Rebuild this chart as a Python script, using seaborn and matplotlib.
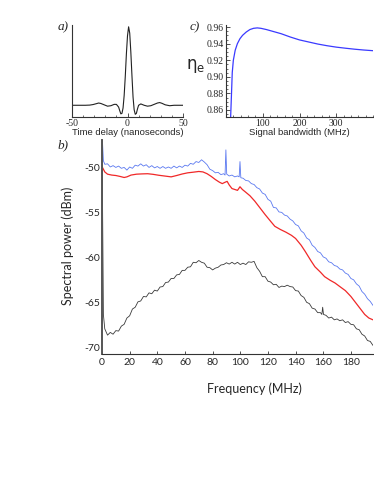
import pandas as pd
import matplotlib
matplotlib.use("Agg")
import matplotlib.pyplot as plt
from matplotlib.ticker import MultipleLocator
import seaborn as sns
import numpy as np
sns.set_style("ticks")
plt.rcParams['font.family'] = ['Liberation Sans', 'DejaVu Sans']
plt.rcParams['mathtext.fontset'] = 'dejavusans'

# a) autocorrelation vs time delay (ns)
delay = [-50, -46, -42, -38, -34, -31, -28, -26, -24, -21, -18, -15, -12, -10, -8, -7, -6, -5, -4, -3,
         -2, -1, 0, 1, 2, 3, 4, 5, 6, 7, 8, 9, 10, 12, 15, 18, 21, 24, 27, 29, 31, 34, 38, 42, 46, 50]
corr = [0.13, 0.13, 0.13, 0.13, 0.132, 0.138, 0.148, 0.155, 0.15, 0.135, 0.12, 0.125, 0.14, 0.14, 0.11, 0.07, 0.035, 0.04, 0.1, 0.24,
        0.45, 0.7, 0.9, 1.0, 0.93, 0.72, 0.46, 0.22, 0.08, 0.03, 0.04, 0.09, 0.13, 0.145, 0.13, 0.12, 0.125, 0.14, 0.155, 0.16,
        0.152, 0.135, 0.125, 0.13, 0.13, 0.13]

# c) efficiency vs signal bandwidth
bw = [12.5, 15, 17, 20, 25, 31, 38, 45, 55, 65, 75, 85, 95, 110, 130, 150, 175, 200, 225, 250, 275, 300, 325, 350, 375, 400]
eta = [0.85, 0.88, 0.905, 0.92, 0.932, 0.94, 0.946, 0.95, 0.954, 0.957, 0.9585, 0.959, 0.9585, 0.957, 0.9545, 0.952,
       0.948, 0.9445, 0.942, 0.9395, 0.9375, 0.9358, 0.9345, 0.9333, 0.9323, 0.9315]

# b) spectra
blue_f = [0, 1, 2, 4, 6, 8, 10, 12, 14, 16, 18, 20, 22, 24, 26, 28, 30, 32, 34, 36, 38, 40, 42, 44, 46, 48, 50,
          52, 54, 56, 58, 60, 62, 64, 66, 68, 70, 72, 74, 76, 78, 80, 82, 84, 86, 88, 89, 89.6, 90.2, 92, 94, 96, 98,
          99.2, 99.8, 100.4, 102, 104, 106, 108, 110, 112, 114, 116, 118, 120, 122, 124, 126, 128, 130, 132, 134,
          136, 138, 140, 142, 144, 146, 148, 150, 152, 154, 156, 158, 160, 162, 164, 166, 168, 170, 172, 174, 176,
          178, 180, 182, 184, 186, 188, 190, 192, 194, 196]
blue_p = [-46.0, -49.2, -49.6, -49.55, -49.9, -49.75, -49.95, -49.8, -50.05, -49.95, -50.25, -49.9, -50.05, -49.7,
          -49.8, -49.55, -49.8, -49.65, -49.95, -49.75, -50.0, -49.85, -50.05, -49.85, -50.05, -49.9, -50.05,
          -49.8, -50.0, -49.8, -49.95, -49.7, -49.8, -49.5, -49.6, -49.3, -49.4, -49.1, -49.35, -49.65, -50.15,
          -50.3, -50.55, -50.5, -50.75, -50.65, -50.8, -48.0, -50.7, -50.9, -50.8, -51.0, -50.9,
          -51.0, -49.3, -51.1, -51.15, -51.4, -51.45, -51.75, -51.85, -52.2, -52.35, -52.8, -52.95, -53.5, -53.7,
          -54.4, -54.45, -54.9, -54.95, -55.25, -55.35, -55.7, -55.9, -56.3, -56.45, -57.0, -57.25, -57.8, -58.0,
          -58.6, -58.85, -59.3, -59.45, -59.9, -60.05, -60.45, -60.55, -60.85, -60.95, -61.25, -61.35, -61.7,
          -61.85, -62.3, -62.45, -62.9, -63.15, -63.75, -64.05, -64.55, -64.85, -65.3]

red_f = [0, 2, 4, 7, 10, 13, 16, 18, 21, 25, 29, 33, 37, 41, 45, 50, 54, 58, 62, 66, 70, 73, 76, 79, 82, 85, 87,
         89, 90.5, 92, 94, 96, 98, 99.8, 101.5, 103.5, 107, 110.5, 114, 118, 122, 125, 129, 133, 137, 140, 144,
         147, 151, 154, 158, 161, 165, 168.5, 172, 176, 180, 183, 187, 190, 193, 196]
red_p = [-49.85, -50.45, -50.7, -50.8, -50.85, -50.95, -51.07, -51.0, -50.8, -50.7, -50.67, -50.65, -50.72,
         -50.82, -50.9, -51.0, -50.85, -50.68, -50.55, -50.48, -50.4, -50.45, -50.65, -50.95, -51.3, -51.6,
         -51.75, -51.6, -51.5, -51.9, -52.3, -52.4, -52.5, -52.1, -52.4, -52.65, -53.1, -53.7, -54.4, -55.2,
         -55.95, -56.5, -56.85, -57.15, -57.5, -57.85, -58.6, -59.3, -60.3, -61.0, -61.6, -62.1, -62.5, -62.8,
         -63.2, -63.65, -64.3, -64.9, -65.7, -66.3, -66.7, -66.9]

black_f = [0, 1, 2, 4, 6, 8, 10, 12, 14, 16, 18, 20, 22, 24, 26, 28, 30, 32, 34, 36, 38, 40, 42, 44, 46, 48, 50,
           52, 54, 56, 58, 60, 62, 64, 66, 68, 70, 72, 74, 76, 78, 80, 82, 84, 86, 88, 90, 92, 94, 96, 98, 100,
           102, 104, 106, 108, 110, 112, 114, 116, 118, 120, 122, 124, 126, 128, 130, 132, 134, 136, 138, 140,
           142, 144, 146, 148, 150, 152, 154, 156, 158, 159, 159.6, 160.2, 162, 164, 166, 168, 170, 172, 174,
           176, 178, 180, 182, 184, 186, 188, 190, 192, 194, 196]
black_p = [-46.0, -66.3, -67.9, -68.6, -68.3, -68.5, -68.1, -68.15, -67.6, -67.4, -66.7, -66.45, -65.7, -65.5,
           -64.9, -64.8, -64.3, -64.35, -63.9, -64.0, -63.6, -63.7, -63.25, -63.2, -62.75, -62.7, -62.3,
           -62.3, -61.9, -61.85, -61.4, -61.4, -61.05, -61.0, -60.5, -60.55, -60.3, -60.5, -60.6, -61.05,
           -61.1, -61.35, -61.15, -61.05, -60.8, -60.75, -60.55, -60.7, -60.5, -60.7, -60.5, -60.75,
           -60.6, -60.75, -60.45, -60.5, -60.4, -61.1, -61.5, -62.1, -62.1, -62.6, -62.7, -63.0, -62.95,
           -63.3, -63.15, -63.2, -63.05, -63.2, -63.25, -63.65, -63.7, -64.2, -64.4, -64.95, -65.1, -65.6,
           -65.7, -66.1, -66.1, -66.3, -65.5, -66.3, -66.4, -66.7, -66.6, -66.9, -66.8, -67.0, -66.9,
           -67.2, -67.1, -67.4, -67.45, -67.9, -68.0, -68.5, -68.7, -69.2, -69.3, -69.75]

serif = 'Liberation Serif'
sans2 = 'Lato'
spine_col = '#333333'

fig = plt.figure(figsize=(3.74, 4.84), dpi=100)
ax_a = fig.add_axes([72 / 374, 1 - 117 / 484, 111 / 374, 92 / 484])
ax_c = fig.add_axes([226 / 374, 1 - 117 / 484, 147 / 374, 92 / 484])
ax_b = fig.add_axes([102 / 374, 1 - 354 / 484, 271 / 374, 214 / 484])

# panel a
sns.lineplot(x=delay, y=corr, ax=ax_a, color='#222222', lw=0.8, estimator=None)
ax_a.set_xlim(-50, 50)
ax_a.set_ylim(0, 1.02)
ax_a.set_xticks([-50, 0, 50])
ax_a.set_xticklabels(['-50', '0', '50'], family=serif, fontsize=7)
ax_a.xaxis.set_minor_locator(MultipleLocator(10))
ax_a.set_yticks([])
ax_a.tick_params(axis='x', which='major', direction='in', length=3, width=0.6, pad=1.5, color=spine_col)
ax_a.tick_params(axis='x', which='minor', direction='in', length=1.8, width=0.5, color=spine_col)
ax_a.set_xlabel('Time delay (nanoseconds)', fontsize=6.8, labelpad=0)

# panel c
sns.lineplot(x=bw, y=eta, ax=ax_c, color='#3a3aff', lw=0.9, estimator=None)
ax_c.set_xlim(0, 400)
ax_c.set_ylim(0.8515, 0.9625)
ax_c.set_xticks([100, 200, 300])
ax_c.set_xticklabels(['100', '200', '300'], family=serif, fontsize=7)
ax_c.set_yticks([0.86, 0.88, 0.90, 0.92, 0.94, 0.96])
ax_c.set_yticklabels(['0.86', '0.88', '0.90', '0.92', '0.94', '0.96'], family=serif, fontsize=7)
ax_c.xaxis.set_minor_locator(MultipleLocator(20))
ax_c.yaxis.set_minor_locator(MultipleLocator(0.005))
ax_c.tick_params(which='major', direction='in', length=3, width=0.6, pad=1.5, color=spine_col)
ax_c.tick_params(which='minor', direction='in', length=1.6, width=0.5, color=spine_col)
ax_c.set_xlabel('Signal bandwidth (MHz)', fontsize=6.8, labelpad=0)
ax_c.set_ylabel(r'η$_\mathrm{e}$', family='DejaVu Sans', fontsize=12, rotation=0, ha='center', va='center')
ax_c.yaxis.set_label_coords(-0.21, 0.55)

# panel b
sns.lineplot(x=blue_f, y=blue_p, ax=ax_b, color='#5a78f0', lw=0.6, estimator=None)
sns.lineplot(x=red_f, y=red_p, ax=ax_b, color='#f02828', lw=0.9, estimator=None)
sns.lineplot(x=black_f, y=black_p, ax=ax_b, color='#3a3a3a', lw=0.6, estimator=None)
ax_b.set_xlim(0, 196)
ax_b.set_ylim(-70.7, -46.9)
ax_b.set_xticks(list(range(0, 181, 20)))
ax_b.set_xticklabels([str(v) for v in range(0, 181, 20)], family=sans2, fontsize=7.5)
ax_b.set_yticks([-50, -55, -60, -65, -70])
ax_b.set_yticklabels(['-50', '-55', '-60', '-65', '-70'], family=sans2, fontsize=7.5)
ax_b.tick_params(axis='x', direction='in', length=2.5, width=0.6, pad=3, color=spine_col)
ax_b.tick_params(axis='y', direction='in', length=0, pad=1.5)
ax_b.set_xlabel('Frequency (MHz)', family=sans2, fontsize=9)
ax_b.xaxis.set_label_coords(0.561, -0.134)
ax_b.set_ylabel('Spectral power (dBm)', family=sans2, fontsize=9)
ax_b.yaxis.set_label_coords(-0.105, 0.505)

for ax in (ax_a, ax_b, ax_c):
    for s in ('top', 'right'):
        ax.spines[s].set_visible(False)
    ax.spines['left'].set_color(spine_col)
    ax.spines['bottom'].set_color(spine_col)
    ax.spines['left'].set_linewidth(0.8)
    ax.spines['bottom'].set_linewidth(0.8)
ax_b.spines['left'].set_linewidth(1.4)
ax_b.spines['left'].set_color('#555555')

for lab, x, y in (('a)', 63.5, 27), ('c)', 195, 27), ('b)', 63, 145)):
    fig.text(x / 374, 1 - y / 484, lab, family=serif, style='italic', fontsize=9.5, ha='center', va='center')

plt.savefig('out.png', dpi=100)
